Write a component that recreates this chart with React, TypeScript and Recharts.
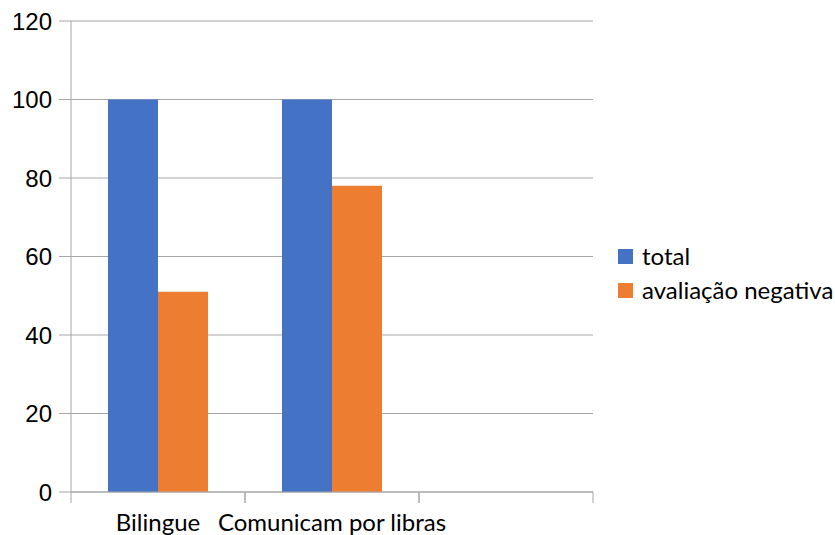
import React from 'react';
import { BarChart, Bar, XAxis, YAxis, CartesianGrid } from 'recharts';

const categories = ['Bilingue', 'Comunicam por libras', ''];
const totalValues = [100, 100, null];
const negativeValues = [51, 78, null];
const yTicks = [0, 20, 40, 60, 80, 100, 120];
const seriesNames = ['total', 'avaliação negativa'];
const seriesColors = ['#4472C4', '#ED7D31'];

const data = categories.map((c, i) => ({ name: c, total: totalValues[i], negativa: negativeValues[i] }));

const AXIS = '#a6a6a6';
const LABEL_FONT = 'Lato, "Noto Sans", sans-serif';

const CatTick = (props: any) => {
  const { x, y, payload } = props;
  const half = payload && typeof payload.offset === 'number' ? payload.offset : 0;
  return (
    <g>
      {half > 0 && (
        <>
          <line x1={x - half} x2={x - half} y1={y} y2={y + 11} stroke={AXIS} strokeWidth={1} />
          <line x1={x + half} x2={x + half} y1={y} y2={y + 11} stroke={AXIS} strokeWidth={1} />
        </>
      )}
      <text x={x} y={y + 39} textAnchor="middle" fontFamily={LABEL_FONT} fontSize={24} fill="#000">
        {payload.value}
      </text>
    </g>
  );
};

const LegendBox = () => (
  <div style={{ position: 'absolute', left: 618, top: 239, fontFamily: LABEL_FONT, fontSize: 24, color: '#000', lineHeight: '34px' }}>
    {seriesNames.map((n, i) => (
      <div key={n} style={{ display: 'flex', alignItems: 'center', height: 34, whiteSpace: 'nowrap' }}>
        <span style={{ display: 'inline-block', width: 15, height: 15, background: seriesColors[i], marginRight: 9 }} />
        <span>{n}</span>
      </div>
    ))}
  </div>
);

export default function App() {
  return (
    <div style={{ position: 'absolute', left: 0, top: 0, width: 835, height: 535, background: '#fff' }}>
      <BarChart
        width={835}
        height={535}
        data={data}
        margin={{ top: 21, right: 242, bottom: 0, left: 0 }}
        barGap={0}
        barSize={50}
      >
        <CartesianGrid horizontal vertical={false} stroke={AXIS} strokeDasharray="" />
        <XAxis
          dataKey="name"
          height={43}
          stroke={AXIS}
          tickLine={false}
          tickSize={0}
          tickMargin={0}
          tick={<CatTick />}
          interval={0}
        />
        <YAxis
          domain={[0, 120]}
          ticks={yTicks}
          width={71}
          tickSize={12}
          tickMargin={7}
          stroke={AXIS}
          tick={{ fontFamily: '"Liberation Sans", Arial, sans-serif', fontSize: 24, fill: '#000' }}
        />
        <Bar dataKey="total" name={seriesNames[0]} fill={seriesColors[0]} isAnimationActive={false} />
        <Bar dataKey="negativa" name={seriesNames[1]} fill={seriesColors[1]} isAnimationActive={false} />
      </BarChart>
      <LegendBox />
    </div>
  );
}
